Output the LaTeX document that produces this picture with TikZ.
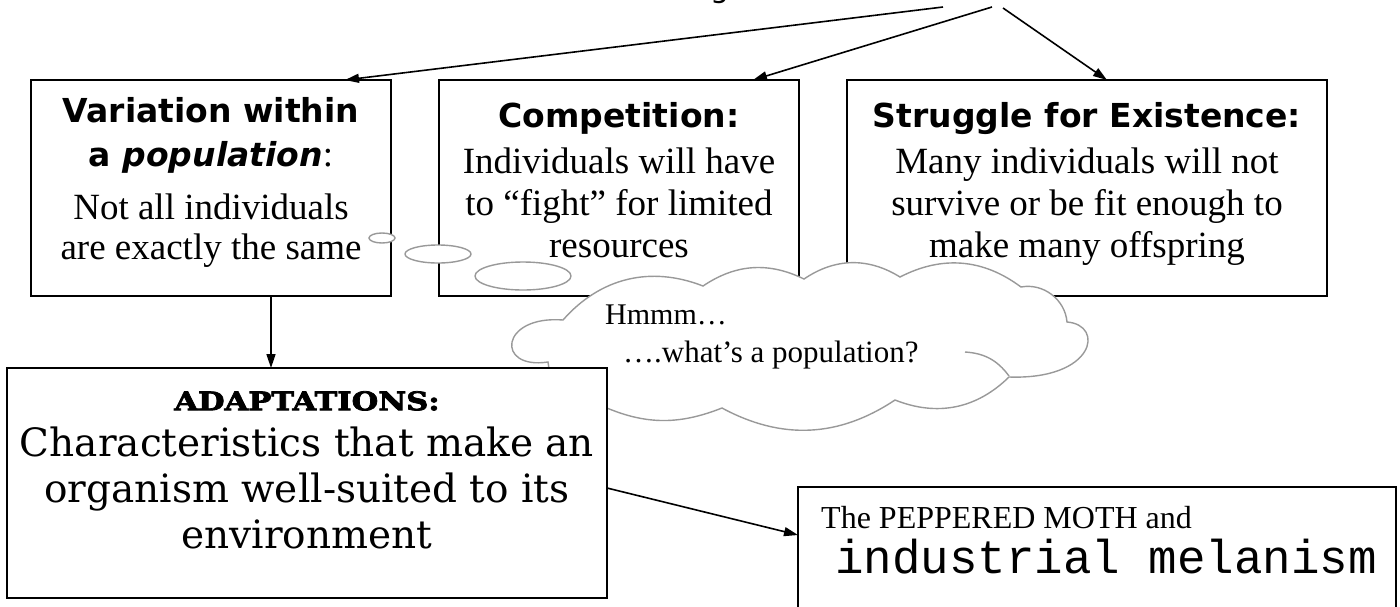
\documentclass[tikz,border=0pt]{standalone}
\usepackage{fontspec}
\setmainfont{Liberation Serif}
\setmonofont{Liberation Mono}
\newfontfamily\hsans{DejaVu Sans}
\newfontfamily\slab{DejaVu Serif}
\newfontfamily\slabheavy[FakeStretch=1.2,BoldFeatures={FakeBold=3}]{DejaVu Serif}
\usetikzlibrary{arrows.meta}
\definecolor{cloudgray}{gray}{0.6}
\begin{document}
\begin{tikzpicture}[x=1pt,y=-1pt,
  box/.style={draw, line width=2.2pt, fill=white, inner sep=0pt, outer sep=0pt, rectangle},
  conn/.style={line width=1.6pt, -{Triangle[length=14pt,width=9pt]}},
  cloudline/.style={draw=cloudgray, line width=1.4pt, fill=white},
  txt/.style={inner sep=0pt, align=center, anchor=north},
  plain/.style={inner sep=0pt, anchor=base west},
]
\useasboundingbox (0,0) rectangle (1400,606);

% cut-off title at the top
\node[anchor=base, inner sep=0pt, font=\hsans\fontsize{30}{36}\selectfont] (title) at (720,-3) {g};

% upper boxes
\node[box, minimum width=360pt, minimum height=216pt] (b1) at (211,188) {};
\node[box, minimum width=360pt, minimum height=216pt] (b2) at (619,188) {};
\node[box, minimum width=480pt, minimum height=216pt] (b3) at (1087,188) {};

\node[txt, font=\fontsize{37}{40}\selectfont] (t1) at (211,90)
 {\rule{0pt}{32pt}{\hsans\bfseries\fontsize{33}{40}\selectfont Variation within}\\[4pt]
  {\hsans\bfseries\fontsize{33}{40}\selectfont a \itshape population}:\\[13pt]
  Not all individuals\\
  are exactly the same};
\node[txt, font=\fontsize{37}{42}\selectfont] (t2) at (619,95)
 {\rule{0pt}{32pt}{\hsans\bfseries\fontsize{33}{42}\selectfont Competition:}\\[4pt]
  Individuals will have\\
  to “fight” for limited\\
  resources};
\node[txt, font=\fontsize{37}{42}\selectfont] (t3) at (1087,95)
 {\rule{0pt}{32pt}{\hsans\bfseries\fontsize{33}{42}\selectfont Struggle for Existence:}\\[4pt]
  Many individuals will not\\
  survive or be fit enough to\\
  make many offspring};

% thought bubbles and cloud
\draw[cloudline] (382,238) ellipse [x radius=13, y radius=5];
\draw[cloudline] (438,254) ellipse [x radius=33, y radius=9];
\draw[cloudline] (523,276) ellipse [x radius=48, y radius=14];
\draw[cloudline] (563,320) to[bend left=35] (703,286) to[bend left=30] (804,279)
  to[bend left=33] (900,277) to[bend left=32] (1021,287) to[bend left=48] (1067,322)
  .. controls (1105,325) and (1095,380) .. (1009,377) to[bend left=33] (895,400)
  to[bend left=31] (722,408) to[bend left=23] (600,405) to[bend left=45] (548,362)
  .. controls (495,370) and (500,315) .. (563,320) -- cycle;
\draw[draw=cloudgray, line width=1.4pt] (965,352) to[bend left=25] (1009,376);
\node[plain, font=\fontsize{30}{36}\selectfont] (hm) at (605,324) {Hmmm…};
\node[plain, font=\fontsize{31}{36}\selectfont] (wp) at (623,362) {….what’s a population?};

% lower boxes
\node[box, minimum width=600pt, minimum height=230pt] (b4) at (307,483) {};
\node[txt, font=\slab\fontsize{39}{46}\selectfont] (t4) at (307,386)
 {\rule{0pt}{24pt}{\slabheavy\bfseries\fontsize{25.5}{46}\selectfont ADAPTATIONS:}\\
  Characteristics that make an\\
  organism well-suited to its\\
  environment};
\node[box, minimum width=598pt, minimum height=163pt] (b5) at (1097,568.5) {};
\node[plain, font=\fontsize{32}{38}\selectfont] (t5a) at (821,528) {The PEPPERED MOTH and};
\node[plain, font=\ttfamily\fontsize{47.5}{56}\selectfont] (t5b) at (835,573) {industrial melanism};

% connectors
\coordinate (s1) at (943,7);
\coordinate (s2) at (992,7);
\coordinate (s3) at (1003,8);
\draw[conn] (s1) -- (b1.north -| 345,0);
\draw[conn] (s2) -- (b2.north -| 753,0);
\draw[conn] (s3) -- (b3.north -| 1107,0);
\draw[conn] (b1.south -| 271,0) -- (b4.north -| 271,0);
\draw[conn] (b4.east |- 0,488) -- (b5.west |- 0,535);
\end{tikzpicture}
\end{document}
